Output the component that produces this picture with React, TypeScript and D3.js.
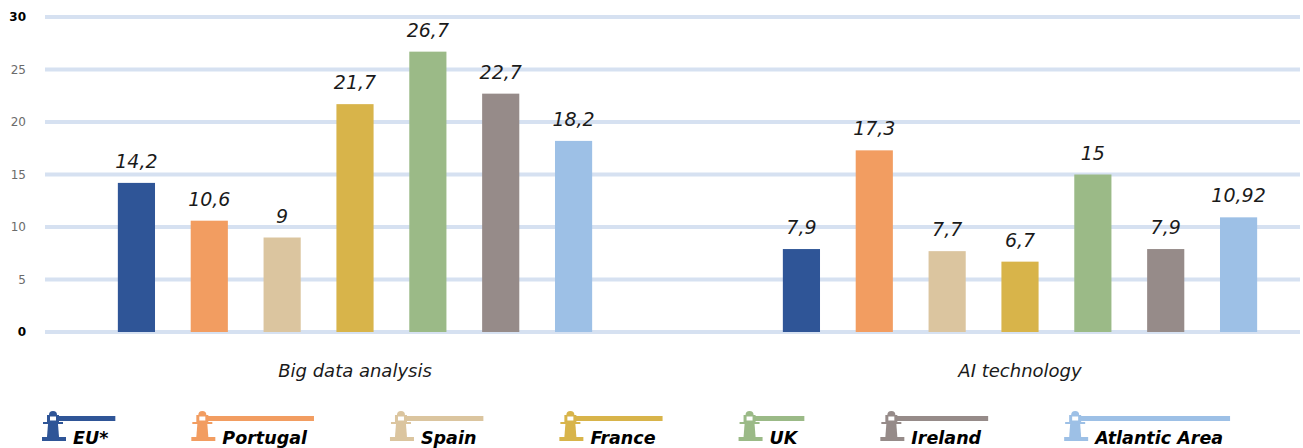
import { useEffect, useRef } from "react"
import * as d3 from "d3"

const categories = ["Big data analysis", "AI technology"]
const seriesNames = ["EU*", "Portugal", "Spain", "France", "UK", "Ireland", "Atlantic Area"]
const seriesColors = ["#2f5597", "#f29d61", "#dbc59f", "#d8b44a", "#9bba87", "#968b89", "#9dc0e6"]
const bigDataValues = [14.2, 10.6, 9, 21.7, 26.7, 22.7, 18.2]
const aiValues = [7.9, 17.3, 7.7, 6.7, 15, 7.9, 10.92]
const yTicks = [0, 5, 10, 15, 20, 25, 30]

const W = 1303
const H = 448
const FONT = "'DejaVu Sans', sans-serif"

export default function App() {
  const svgRef = useRef<SVGSVGElement>(null)

  useEffect(() => {
    if (!svgRef.current) return
    const svg = d3.select(svgRef.current)
    svg.selectAll("*").remove()

    const y = d3.scaleLinear().domain([0, 30]).range([332, 17])
    const x0 = d3.scalePoint<string>().domain(categories).range([355, 1020])
    const x1 = d3
      .scaleBand<string>()
      .domain(seriesNames)
      .range([-255, 255])
      .paddingInner(0.49)
      .paddingOuter(0.245)

    // gridlines
    svg
      .append("g")
      .selectAll("line")
      .data(yTicks)
      .enter()
      .append("line")
      .attr("x1", 45)
      .attr("x2", 1300)
      .attr("y1", (d) => y(d))
      .attr("y2", (d) => y(d))
      .attr("stroke", "#d6e1f1")
      .attr("stroke-width", 4)

    // y labels
    svg
      .append("g")
      .selectAll("text")
      .data(yTicks)
      .enter()
      .append("text")
      .attr("x", 26)
      .attr("y", (d) => y(d) + 4)
      .attr("text-anchor", "end")
      .attr("font-family", FONT)
      .attr("font-size", 12)
      .attr("font-weight", (d) => (d === 0 || d === 30 ? 700 : 400))
      .attr("fill", (d) => (d === 0 || d === 30 ? "#000" : "#6b6b6b"))
      .text((d) => d)

    const groups = [
      { cat: categories[0], values: bigDataValues },
      { cat: categories[1], values: aiValues },
    ]

    groups.forEach((grp) => {
      const g = svg.append("g").attr("transform", `translate(${x0(grp.cat)},0)`)
      const rows = grp.values.map((v, i) => ({ v, name: seriesNames[i], color: seriesColors[i] }))
      g.selectAll("rect")
        .data(rows)
        .enter()
        .append("rect")
        .attr("x", (d) => x1(d.name)!)
        .attr("width", x1.bandwidth())
        .attr("y", (d) => y(d.v))
        .attr("height", (d) => y(0) - y(d.v))
        .attr("fill", (d) => d.color)
      g.selectAll("text.val")
        .data(rows)
        .enter()
        .append("text")
        .attr("class", "val")
        .attr("x", (d) => x1(d.name)! + x1.bandwidth() / 2)
        .attr("y", (d) => y(d.v) - 15)
        .attr("text-anchor", "middle")
        .attr("font-family", FONT)
        .attr("font-style", "italic")
        .attr("font-size", 19)
        .attr("fill", "#1a1a1a")
        .text((d) => String(d.v).replace(".", ","))
      g.append("text")
        .attr("x", 0)
        .attr("y", 377)
        .attr("text-anchor", "middle")
        .attr("font-family", FONT)
        .attr("font-style", "italic")
        .attr("font-size", 18)
        .attr("fill", "#1a1a1a")
        .text(grp.cat)
    })

    // legend
    const legend = svg.append("g")
    let lx = 42
    seriesNames.forEach((name, i) => {
      const c = seriesColors[i]
      const item = legend.append("g").attr("transform", `translate(${lx},411)`)
      const label = item
        .append("text")
        .attr("x", 31)
        .attr("y", 33)
        .attr("font-family", FONT)
        .attr("font-style", "italic")
        .attr("font-weight", 700)
        .attr("font-size", 17.5)
        .attr("fill", "#000")
        .text(name)
      const tw = (label.node() as SVGTextElement).getComputedTextLength()
      const lineEnd = 31 + tw + 7
      item.append("rect").attr("x", 14).attr("y", 5).attr("width", lineEnd - 14).attr("height", 5).attr("fill", c)
      // lighthouse icon
      item.append("path")
        .attr("d", "M7,4 Q7,0 11,0 Q15,0 15,4 Z")
        .attr("fill", c)
      item.append("rect").attr("x", 5).attr("y", 4).attr("width", 12).attr("height", 7).attr("fill", c)
      item.append("rect").attr("x", 8).attr("y", 5.5).attr("width", 6).attr("height", 4).attr("fill", "#fff")
      item.append("rect").attr("x", 1).attr("y", 11).attr("width", 20).attr("height", 2).attr("fill", c)
      item.append("path").attr("d", "M6,13 L16,13 L17,26 L5,26 Z").attr("fill", c)
      item.append("rect").attr("x", 0).attr("y", 26).attr("width", 24).attr("height", 4).attr("fill", c)
      lx += lineEnd + 76
    })
  }, [])

  return (
    <svg
      ref={svgRef}
      width={W}
      height={H}
      style={{ position: "absolute", left: 0, top: 0, background: "#fff" }}
    />
  )
}
